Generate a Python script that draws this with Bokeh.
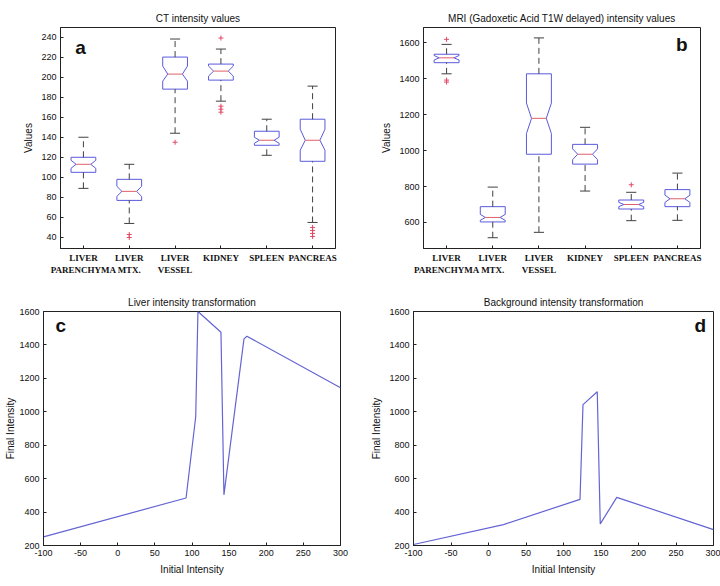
from bokeh.plotting import figure
from bokeh.layouts import column, row
from bokeh.models import Range1d, FixedTicker, Label
from bokeh.embed import file_html
from bokeh.resources import INLINE

# ---------------- data ----------------
categories = ["LIVER\nPARENCHYMA", "LIVER\nMTX.", "LIVER\nVESSEL", "KIDNEY", "SPLEEN", "PANCREAS"]

# CT intensity values (panel a)
ct_low = [89, 54, 144, 176, 122, 55]
ct_q1 = [105, 77, 188, 197, 132, 116]
ct_median = [113, 86, 203, 206, 137, 137]
ct_q3 = [120, 98, 220, 213, 146, 158]
ct_high = [140, 113, 238, 228, 158, 191]
ct_notch_low = [109, 81, 196, 201, 134, 127]
ct_notch_high = [117, 91, 211, 211, 140, 148]
ct_outlier_cat = [1, 1, 2, 3, 3, 3, 3, 5, 5, 5, 5]
ct_outlier_val = [43, 40, 135, 171, 168, 165, 239, 50, 47, 44, 41]

# MRI intensity values (panel b)
mr_low = [1428, 515, 545, 775, 610, 612]
mr_q1 = [1490, 603, 980, 925, 675, 688]
mr_median = [1517, 628, 1180, 980, 700, 732]
mr_q3 = [1537, 688, 1428, 1035, 725, 783]
mr_high = [1592, 797, 1628, 1130, 768, 875]
mr_notch_low = [1505, 612, 1095, 950, 688, 712]
mr_notch_high = [1530, 645, 1265, 1010, 712, 752]
mr_outlier_cat = [0, 0, 0, 4]
mr_outlier_val = [1620, 1393, 1382, 810]

# Liver intensity transformation (panel c)
liver_initial = [-100, 92, 105, 108, 139, 143, 170, 174, 300]
liver_final = [252, 484, 970, 1600, 1476, 503, 1436, 1452, 1144]

# Background intensity transformation (panel d)
bg_initial = [-100, 20, 122, 126, 145, 149, 171, 300]
bg_final = [206, 325, 476, 1043, 1120, 329, 488, 295]

ct_ticks = [40, 60, 80, 100, 120, 140, 160, 180, 200, 220, 240]
mr_ticks = [600, 800, 1000, 1200, 1400, 1600]
tr_xticks = [-100, -50, 0, 50, 100, 150, 200, 250, 300]
tr_yticks = [200, 400, 600, 800, 1000, 1200, 1400, 1600]

# ---------------- styles ----------------
BOX = "#5a5ade"
MED = "#e0606a"
OUT = "#e04a66"
WHISK = "#404040"
LINE = "#6464d4"
FRAME = "#222222"
SANS = "Liberation Sans"
SERIF = "Liberation Serif"


def base_fig(title, w, h, xr, yr, borders):
    p = figure(width=w, height=h, output_backend="svg", toolbar_location=None,
               x_range=xr, y_range=yr, tools="")
    p.min_border_left, p.min_border_right, p.min_border_top, p.min_border_bottom = borders
    p.title.text = title
    p.title.text_font = SANS
    p.title.text_font_size = "10px"
    p.title.text_font_style = "normal"
    p.title.align = "center"
    p.title.standoff = 8
    p.title.text_color = "#111111"
    p.outline_line_color = FRAME
    p.outline_line_width = 1
    p.xgrid.visible = False
    p.ygrid.visible = False
    p.background_fill_color = "white"
    p.border_fill_color = "white"
    return p


def style_axes(p, xticks, yticks):
    for ax in p.axis:
        ax.major_tick_in = 3
        ax.major_tick_out = 0
        ax.minor_tick_line_color = None
        ax.axis_line_color = FRAME
        ax.major_tick_line_color = FRAME
        ax.major_label_text_font = SANS
        ax.major_label_text_font_size = "9px"
        ax.major_label_text_color = "#111111"
        ax.major_label_standoff = 4
        ax.axis_label_text_font = SANS
        ax.axis_label_text_font_size = "10px"
        ax.axis_label_text_font_style = "normal"
        ax.axis_label_text_color = "#111111"
    p.xaxis.ticker = FixedTicker(ticks=xticks)
    p.yaxis.ticker = FixedTicker(ticks=yticks)
    # plain hyphen-minus for negative tick labels, as in the reference
    p.xaxis.major_label_overrides = {t: str(t) for t in xticks if t < 0}


def boxplot(p, low, q1, med, q3, high, nlo, nhi, ocat, oval):
    pos = [i + 1 for i in range(len(categories))]
    hw = 0.27   # box half width
    nw = 0.16   # notch half width
    cw = 0.11   # cap half width
    xs, ys = [], []
    for x, a, b, m, c, d in zip(pos, q1, nlo, med, nhi, q3):
        xs.append([x - hw, x - hw, x - nw, x - hw, x - hw, x + hw, x + hw, x + nw, x + hw, x + hw])
        ys.append([a, b, m, c, d, d, c, m, b, a])
    p.patches(xs, ys, fill_color=None, line_color=BOX, line_width=1)
    # whiskers
    p.segment(pos, q3, pos, high, line_color=WHISK, line_dash="6 4", line_width=1)
    p.segment(pos, low, pos, q1, line_color=WHISK, line_dash="6 4", line_width=1)
    # caps
    p.segment([x - cw for x in pos], high, [x + cw for x in pos], high, line_color=WHISK, line_width=1)
    p.segment([x - cw for x in pos], low, [x + cw for x in pos], low, line_color=WHISK, line_width=1)
    # medians
    p.segment([x - nw for x in pos], med, [x + nw for x in pos], med, line_color=MED, line_width=1)
    # outliers
    p.scatter([pos[i] for i in ocat], oval, marker="cross", size=5, line_color=OUT, line_width=1)
    ax = p.below[0]
    ax.major_label_overrides = {pos[i]: categories[i] for i in range(len(categories))}
    ax.major_label_text_font = SERIF
    ax.major_label_text_font_style = "bold"
    ax.major_label_text_font_size = "9px"
    ax.major_label_standoff = 4


def letter(p, txt, x, y, align):
    p.add_layout(Label(x=x, y=y, text=txt, text_font=SANS, text_font_size="19px",
                       text_font_style="bold", text_align=align, text_baseline="middle",
                       text_color="#111111"))


# ---------------- panel a ----------------
pa = base_fig("CT intensity values", 360, 290, Range1d(0.5, 6.5), Range1d(29, 249.5), (60, 25, 27, 42))
pa.yaxis.axis_label = "Values"
pa.yaxis.axis_label_standoff = 4
style_axes(pa, [1, 2, 3, 4, 5, 6], ct_ticks)
boxplot(pa, ct_low, ct_q1, ct_median, ct_q3, ct_high, ct_notch_low, ct_notch_high, ct_outlier_cat, ct_outlier_val)
letter(pa, "a", 0.82, 230, "left")

# ---------------- panel b ----------------
pb = base_fig("MRI (Gadoxetic Acid T1W delayed) intensity values", 360, 290, Range1d(0.5, 6.5),
              Range1d(455, 1686), (63, 20, 27, 42))
pb.yaxis.axis_label = "Values"
pb.yaxis.axis_label_standoff = 4
style_axes(pb, [1, 2, 3, 4, 5, 6], mr_ticks)
boxplot(pb, mr_low, mr_q1, mr_median, mr_q3, mr_high, mr_notch_low, mr_notch_high, mr_outlier_cat, mr_outlier_val)
letter(pb, "b", 6.22, 1590, "right")

# ---------------- panel c ----------------
pc = base_fig("Liver intensity transformation", 360, 296, Range1d(-100, 300), Range1d(200, 1600), (43, 20, 21, 40))
pc.xaxis.axis_label = "Initial Intensity"
pc.yaxis.axis_label = "Final Intensity"
pc.xaxis.axis_label_standoff = 5
pc.yaxis.axis_label_standoff = 0
style_axes(pc, tr_xticks, tr_yticks)
pc.line(liver_initial, liver_final, line_color=LINE, line_width=1.2)
letter(pc, "c", -84, 1515, "left")

# ---------------- panel d ----------------
pd_ = base_fig("Background intensity transformation", 360, 296, Range1d(-100, 300), Range1d(200, 1600), (53, 7, 21, 41))
pd_.xaxis.axis_label = "Initial Intensity"
pd_.yaxis.axis_label = "Final Intensity"
pd_.xaxis.axis_label_standoff = 5
pd_.yaxis.axis_label_standoff = 4
style_axes(pd_, tr_xticks, tr_yticks)
pd_.line(bg_initial, bg_final, line_color=LINE, line_width=1.2)
letter(pd_, "d", 290, 1515, "right")

layout = column(row(pa, pb), row(pc, pd_))
open("out.html", "w").write(file_html(layout, INLINE))
